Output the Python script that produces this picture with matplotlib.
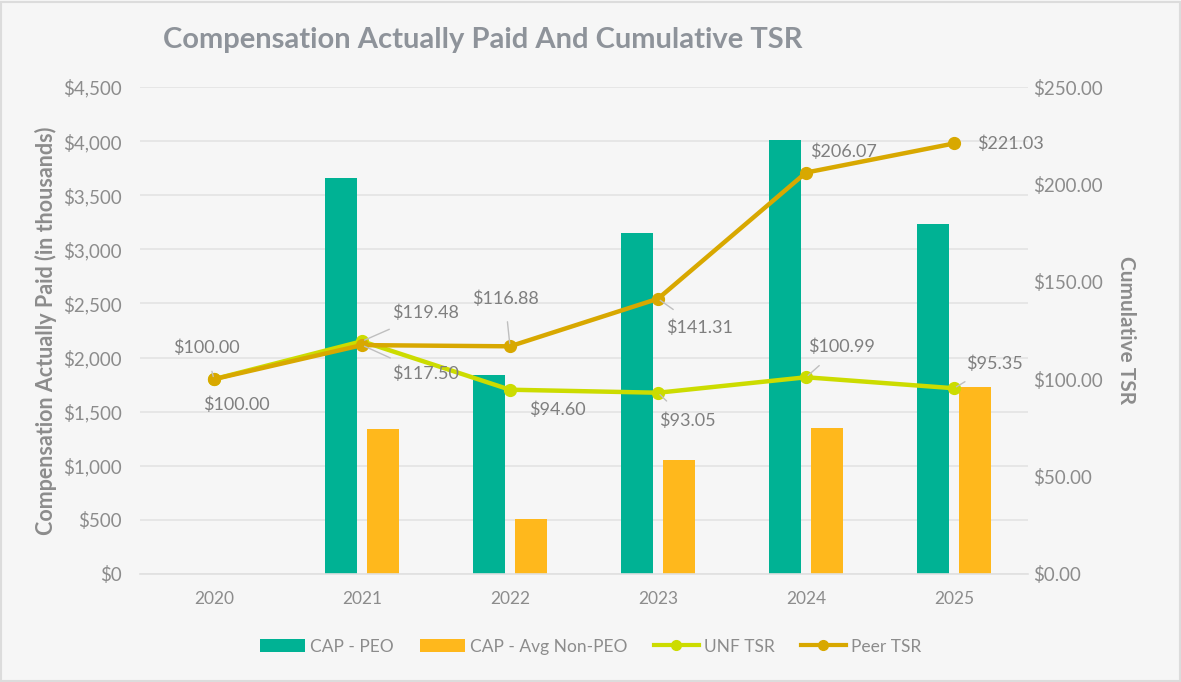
import matplotlib
matplotlib.use("Agg")
import matplotlib.pyplot as plt
from matplotlib.lines import Line2D
from matplotlib.patches import Patch, Rectangle
import numpy as np

plt.rcParams['font.family'] = ['Lato', 'DejaVu Sans']

years = ['2020', '2021', '2022', '2023', '2024', '2025']
cap_peo = [0, 3657, 1839, 3152, 4014, 3232]
cap_non_peo = [0, 1343, 508, 1054, 1346, 1731]
unf_tsr = [100.00, 119.48, 94.60, 93.05, 100.99, 95.35]
peer_tsr = [100.00, 117.50, 116.88, 141.31, 206.07, 221.03]

c_peo = '#00B294'
c_non = '#FFB81C'
c_unf = '#CCDC00'
c_peer = '#D8A800'
txt = '#8C8C8C'
bg = '#F6F6F6'

fig = plt.figure(figsize=(11.81, 6.82), dpi=100, facecolor=bg)
fig.patches.append(Rectangle((0.001, 0.001), 0.998, 0.996, transform=fig.transFigure,
                             fill=False, edgecolor='#DCDCDC', lw=1.5))
ax = fig.add_axes([0.1185, 0.1584, 0.752, 0.714])
ax.set_facecolor(bg)
ax2 = ax.twinx()

x = np.arange(len(years))
w = 0.22
ax.bar(x - 0.143, cap_peo, w, color=c_peo, zorder=2)
ax.bar(x + 0.143, cap_non_peo, w, color=c_non, zorder=2)

ax.set_xlim(-0.5, 5.5)
ax.set_ylim(0, 4500)
ax.set_yticks(np.arange(0, 4501, 500))
ax.set_yticklabels(['${:,.0f}'.format(v) for v in np.arange(0, 4501, 500)])
ax.grid(axis='y', color='#E3E3E3', lw=1.2, zorder=0)
ax.set_axisbelow(True)
ax.set_xticks(x)
ax.set_xticklabels(years)
for s in ['top', 'left', 'right']:
    ax.spines[s].set_visible(False)
ax.spines['bottom'].set_color('#E0E0E0')
ax.spines['bottom'].set_linewidth(1.2)
ax.tick_params(length=0, colors=txt, labelsize=13.5)
ax.tick_params(axis='x', pad=12, labelsize=12.5)
ax.tick_params(axis='y', pad=13)

ax2.plot(x, unf_tsr, color=c_unf, lw=3.2, marker='o', ms=8.5, zorder=3)
ax2.plot(x, peer_tsr, color=c_peer, lw=3.2, marker='o', ms=8.5, zorder=4)
ax2.set_ylim(0, 250)
ax2.set_yticks(np.arange(0, 251, 50))
ax2.set_yticklabels(['${:.2f}'.format(v) for v in np.arange(0, 251, 50)])
for s in ['top', 'left', 'right', 'bottom']:
    ax2.spines[s].set_visible(False)
ax2.tick_params(length=0, colors=txt, labelsize=13.5, pad=3.6)

ax.set_ylabel('Compensation Actually Paid (in thousands)', color=txt, fontsize=15.5,
              fontweight='bold', labelpad=4)
ax2.set_ylabel('Cumulative TSR', color=txt, fontsize=15, fontweight='bold',
               rotation=-90, labelpad=24)
fig.text(0.138, 0.942, 'Compensation Actually Paid And Cumulative TSR', color='#8E939A',
         fontsize=21, fontweight='bold', va='center', ha='left')

# data labels: (series, index, text offset in pixels, leader line)
lab_col = '#7F7F7F'
labels = [
    (peer_tsr, 0, (-8, 31), True),
    (unf_tsr, 0, (22, -26), False),
    (unf_tsr, 1, (64, 28), True),
    (peer_tsr, 1, (64, -29), True),
    (peer_tsr, 2, (-5, 48), True),
    (unf_tsr, 2, (47, -20), False),
    (peer_tsr, 3, (41, -29), True),
    (unf_tsr, 3, (29, -28), True),
    (peer_tsr, 4, (37, 21), False),
    (unf_tsr, 4, (35, 31), True),
    (peer_tsr, 5, (56, 0), False),
    (unf_tsr, 5, (40, 24), True),
]
for ser, i, off, lead in labels:
    ap = dict(arrowstyle='-', color='#BFBFBF', lw=1, shrinkA=9, shrinkB=2) if lead else None
    ax2.annotate('${:.2f}'.format(ser[i]), xy=(x[i], ser[i]), xytext=off,
                 textcoords='offset pixels', ha='center', va='center',
                 color=lab_col, fontsize=13, arrowprops=ap, zorder=5)

handles = [
    Patch(facecolor=c_peo),
    Patch(facecolor=c_non),
    Line2D([], [], color=c_unf, lw=3, marker='o', ms=7),
    Line2D([], [], color=c_peer, lw=3, marker='o', ms=7),
]
leg = fig.legend(handles, ['CAP - PEO', 'CAP - Avg Non-PEO', 'UNF TSR', 'Peer TSR'],
                 loc='center', bbox_to_anchor=(0.5, 0.052), ncol=4, frameon=False,
                 fontsize=12.5, handlelength=2.6, handletextpad=0.3, columnspacing=1.5)
for t in leg.get_texts():
    t.set_color(txt)

fig.savefig('out.png', dpi=100, facecolor=bg)
